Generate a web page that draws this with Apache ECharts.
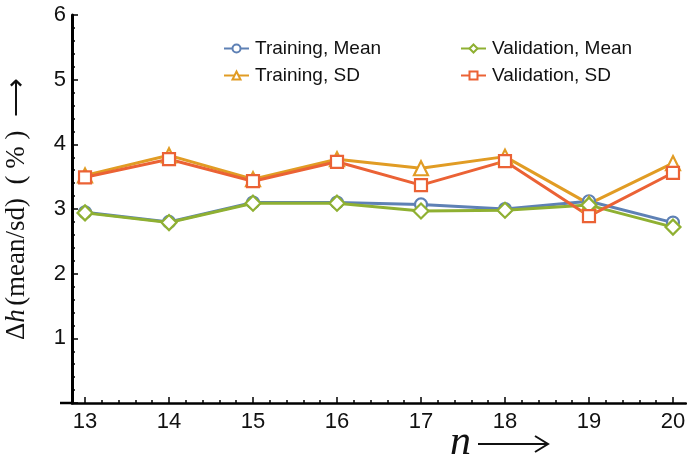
<!DOCTYPE html>
<html><head><meta charset="utf-8">
<script src="https://cdn.jsdelivr.net/npm/echarts@6/dist/echarts.min.js"></script>
<style>html,body{margin:0;padding:0;background:#fff}#c{width:687px;height:457px}</style>
</head><body><div id="c"></div>
<script>
var nValues = [13, 14, 15, 16, 17, 18, 19, 20];
var trainingMean = [2.95, 2.80, 3.10, 3.10, 3.07, 3.00, 3.12, 2.79];
var trainingSD = [3.52, 3.83, 3.46, 3.77, 3.63, 3.81, 3.08, 3.71];
var validationMean = [2.94, 2.79, 3.09, 3.09, 2.97, 2.98, 3.06, 2.72];
var validationSD = [3.49, 3.77, 3.43, 3.73, 3.37, 3.74, 2.89, 3.56];
var xTicks = [13, 14, 15, 16, 17, 18, 19, 20];
var yTicks = [1, 2, 3, 4, 5, 6];

var xMinor = [];
for (var i = 0; i < xTicks.length - 1; i++) for (var k = 1; k < 5; k++) xMinor.push(xTicks[i] + k * 0.2);

function pairs(vals) { return nValues.map(function (n, i) { return [n, vals[i]]; }); }

var chart = echarts.init(document.getElementById('c'));
var sans = 'Liberation Sans';
function mk(name, vals, color, symbol, size) {
  return {
    name: name, type: 'line', data: pairs(vals), symbol: symbol, symbolSize: size,
    lineStyle: { color: color, width: 3 },
    itemStyle: { color: '#fff', borderColor: color, borderWidth: 2.2 },
    emphasis: { disabled: true }, animation: false
  };
}
var legendText = { fontFamily: sans, fontSize: 19, color: '#111', padding: [0, 0, 0, 1] };
chart.setOption({
  animation: false,
  grid: { left: 72, right: 1, top: 15, bottom: 54, containLabel: false, outerBoundsMode: 'none' },
  xAxis: [{
    type: 'value', min: 12.845, max: 20.155,
    axisLine: { lineStyle: { color: '#000', width: 2.5 } },
    axisTick: { customValues: xTicks, inside: true, length: 6, lineStyle: { color: '#000', width: 1.5 } },
    axisLabel: { customValues: xTicks, color: '#111', fontFamily: sans, fontSize: 22, margin: 8 },
    splitLine: { show: false }
  }, {
    type: 'value', min: 12.845, max: 20.155, position: 'bottom',
    axisLine: { show: false },
    axisTick: { customValues: xMinor, inside: true, length: 3, lineStyle: { color: '#000', width: 1.5 } },
    axisLabel: { show: false }, splitLine: { show: false }
  }],
  yAxis: {
    type: 'value', min: 0, max: 6, interval: 1,
    axisLine: { show: true, lineStyle: { color: '#000', width: 3 } },
    axisTick: { inside: true, length: 6, lineStyle: { color: '#000', width: 1.5 } },
    minorTick: { show: true, splitNumber: 5, length: 3, lineStyle: { color: '#000', width: 1.5 } },
    axisLabel: { color: '#111', fontFamily: sans, fontSize: 22, margin: 6,
      formatter: function (v) { return v === 0 ? '' : String(v); } },
    splitLine: { show: false },
    name: '{d|Δ}{i|h} {d|(mean/sd)  ( % )  ⟶}', nameLocation: 'middle', nameRotate: 90, nameGap: 42,
    nameTextStyle: { rich: {
      d: { fontFamily: 'Liberation Serif', fontSize: 27, color: '#111' },
      i: { fontFamily: 'Liberation Serif', fontStyle: 'italic', fontSize: 27, color: '#111' } } }
  },
  legend: [{
    data: ['Training, Mean', 'Training, SD'], orient: 'vertical', left: 218, top: 34,
    itemWidth: 25, itemHeight: 10, itemGap: 8, textStyle: legendText
  }, {
    data: ['Validation, Mean', 'Validation, SD'], orient: 'vertical', left: 455, top: 34,
    itemWidth: 25, itemHeight: 10, itemGap: 8, textStyle: legendText
  }],
  graphic: [
    { type: 'line', shape: { x1: 60, y1: 403, x2: 72, y2: 403 }, style: { stroke: '#000', lineWidth: 2.5 } },
    { type: 'text', left: 450, top: 422, style: { text: 'n',
      fontFamily: 'Liberation Serif', fontStyle: 'italic', fontSize: 42, fill: '#111' } },
    { type: 'line', shape: { x1: 478, y1: 444, x2: 547, y2: 444 }, style: { stroke: '#111', lineWidth: 2 } },
    { type: 'polyline', shape: { points: [[535, 436], [548, 444], [535, 452]] }, style: { stroke: '#111', lineWidth: 2, fill: null } }
  ],
  series: [
    mk('Training, Mean', trainingMean, '#5E81B5', 'circle', 12),
    mk('Training, SD', trainingSD, '#E19C24', 'triangle', 14),
    mk('Validation, Mean', validationMean, '#8FB032', 'diamond', 15),
    mk('Validation, SD', validationSD, '#EB6235', 'rect', 12)
  ]
});
</script></body></html>
